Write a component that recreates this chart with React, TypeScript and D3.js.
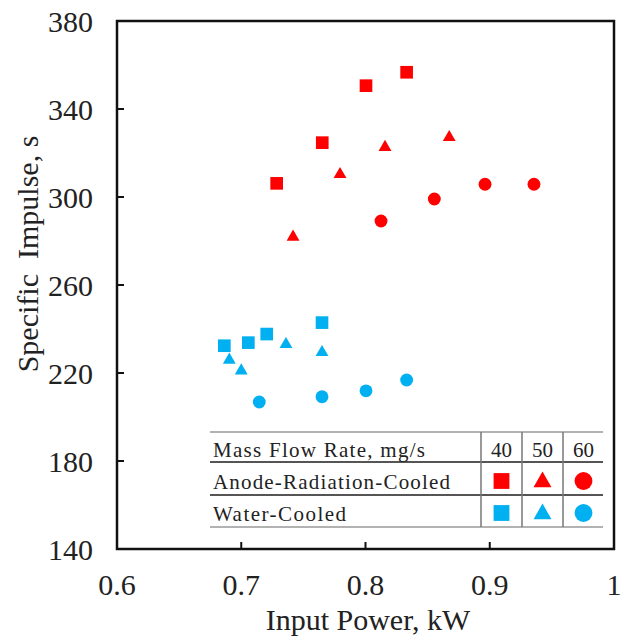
import React, { useEffect, useRef } from 'react';
import * as d3 from 'd3';

const anode40 = [[0.7285, 306.2], [0.7652, 324.7], [0.8004, 350.6], [0.8331, 356.7]];
const anode50 = [[0.7417, 281.8], [0.7795, 310.3], [0.8157, 322.6], [0.8674, 327.1]];
const anode60 = [[0.8125, 289.1], [0.8554, 299.1], [0.8962, 305.8], [0.9356, 305.8]];
const water40 = [[0.6864, 232.4], [0.7057, 233.8], [0.7205, 237.7], [0.765, 242.9]];
const water50 = [[0.6904, 225.9], [0.7, 221.0], [0.736, 233.0], [0.765, 229.4]];
const water60 = [[0.7145, 206.8], [0.765, 209.2], [0.8004, 211.9], [0.8331, 216.8]];

const xTicks = [0.6, 0.7, 0.8, 0.9, 1];
const yTicks = [140, 180, 220, 260, 300, 340, 380];
const flowRates = ['40', '50', '60'];
const coolings = ['Anode-Radiation-Cooled', 'Water-Cooled'];

const RED = '#ff0000';
const BLUE = '#00b0f0';
const FONT = '"Liberation Serif", "Times New Roman", serif';

const App = () => {
    const svgRef = useRef(null);

    useEffect(() => {
        const svg = d3.select(svgRef.current);
        svg.selectAll('*').remove();

        const left = 117, right = 614, top = 21, bottom = 549;

        const x = d3.scaleLinear().domain([0.6, 1]).range([left, right]);
        const y = d3.scaleLinear().domain([140, 380]).range([bottom, top]);

        const symbols = [d3.symbolSquare, d3.symbolTriangle, d3.symbolCircle];
        const plotSizes = [160, 72, 130];
        const legendSizes = [250, 140, 250];

        // Series markers
        const series = [
            { data: anode40, color: RED, shape: 0 },
            { data: anode50, color: RED, shape: 1 },
            { data: anode60, color: RED, shape: 2 },
            { data: water40, color: BLUE, shape: 0 },
            { data: water50, color: BLUE, shape: 1 },
            { data: water60, color: BLUE, shape: 2 },
        ];
        series.forEach(s => {
            const sym = d3.symbol().type(symbols[s.shape]).size(plotSizes[s.shape]);
            svg.append('g')
                .selectAll('path')
                .data(s.data)
                .enter()
                .append('path')
                .attr('d', sym)
                .attr('transform', d => `translate(${x(d[0])},${y(d[1])})`)
                .attr('fill', s.color);
        });

        // Legend table
        const tLeft = 210, tRight = 603;
        const rowLines = [432, 462, 495, 527];
        const colLines = [481, 522, 563];
        const colCenters = [501.5, 542.5, 583.5];
        const rowCenters = [447, 481, 513];
        const rowBase = [457, 489, 521];

        svg.append('g')
            .selectAll('line')
            .data(rowLines)
            .enter()
            .append('line')
            .attr('x1', tLeft)
            .attr('x2', tRight)
            .attr('y1', d => d)
            .attr('y2', d => d)
            .attr('stroke', (d, i) => (i === 1 || i === 2 ? '#555' : '#999'))
            .attr('stroke-width', (d, i) => (i === 1 || i === 2 ? 2 : 1.5));

        svg.append('g')
            .selectAll('line')
            .data(colLines)
            .enter()
            .append('line')
            .attr('x1', d => d)
            .attr('x2', d => d)
            .attr('y1', rowLines[0])
            .attr('y2', rowLines[3])
            .attr('stroke', '#777')
            .attr('stroke-width', 1.5);

        svg.append('text')
            .attr('x', 213)
            .attr('y', rowBase[0])
            .attr('textLength', 212)
            .attr('lengthAdjust', 'spacing')
            .attr('font-family', FONT)
            .attr('font-size', 21)
            .attr('fill', '#222')
            .text('Mass Flow Rate, mg/s');

        svg.append('g')
            .selectAll('text')
            .data(flowRates)
            .enter()
            .append('text')
            .attr('x', (d, i) => colCenters[i])
            .attr('y', rowBase[0])
            .attr('text-anchor', 'middle')
            .attr('font-family', FONT)
            .attr('font-size', 21)
            .attr('fill', '#222')
            .text(d => d);

        coolings.forEach((label, r) => {
            svg.append('text')
                .attr('x', 213)
                .attr('y', rowBase[r + 1])
                .attr('textLength', r === 0 ? 237 : 133)
                .attr('lengthAdjust', 'spacing')
                .attr('font-family', FONT)
                .attr('font-size', 21)
                .attr('fill', '#222')
                .text(label);
            flowRates.forEach((f, c) => {
                svg.append('path')
                    .attr('d', d3.symbol().type(symbols[c]).size(legendSizes[c]))
                    .attr('transform', `translate(${colCenters[c]},${rowCenters[r + 1] + (c === 1 ? 1 : 0)})`)
                    .attr('fill', r === 0 ? RED : BLUE);
            });
        });

        // Axes frame
        svg.append('rect')
            .attr('x', left)
            .attr('y', top)
            .attr('width', right - left)
            .attr('height', bottom - top)
            .attr('fill', 'none')
            .attr('stroke', '#111')
            .attr('stroke-width', 2.5);

        // Inward ticks
        svg.append('g')
            .selectAll('line')
            .data(yTicks.slice(1, -1))
            .enter()
            .append('line')
            .attr('x1', left)
            .attr('x2', left + 7)
            .attr('y1', d => y(d))
            .attr('y2', d => y(d))
            .attr('stroke', '#111')
            .attr('stroke-width', 2);

        svg.append('g')
            .selectAll('line')
            .data(xTicks.slice(1, -1))
            .enter()
            .append('line')
            .attr('x1', d => x(d))
            .attr('x2', d => x(d))
            .attr('y1', bottom)
            .attr('y2', bottom - 7)
            .attr('stroke', '#111')
            .attr('stroke-width', 2);

        // Tick labels
        svg.append('g')
            .selectAll('text')
            .data(yTicks)
            .enter()
            .append('text')
            .attr('x', 93)
            .attr('y', d => y(d) + 11)
            .attr('text-anchor', 'end')
            .attr('font-family', FONT)
            .attr('font-size', 30)
            .attr('fill', '#222')
            .text(d => d);

        svg.append('g')
            .selectAll('text')
            .data(xTicks)
            .enter()
            .append('text')
            .attr('x', d => x(d))
            .attr('y', 595)
            .attr('text-anchor', 'middle')
            .attr('font-family', FONT)
            .attr('font-size', 30)
            .attr('fill', '#222')
            .text(d => d3.format('')(d));

        // Axis titles
        svg.append('text')
            .attr('x', 368)
            .attr('y', 630)
            .attr('text-anchor', 'middle')
            .attr('font-family', FONT)
            .attr('font-size', 30)
            .attr('fill', '#222')
            .text('Input Power, kW');

        svg.append('text')
            .attr('transform', 'translate(38,254) rotate(-90)')
            .attr('text-anchor', 'middle')
            .attr('font-family', FONT)
            .attr('font-size', 30)
            .attr('fill', '#222')
            .style('white-space', 'pre')
            .text('Specific  Impulse, s');
    }, []);

    return (
        <svg
            ref={svgRef}
            width={620}
            height={644}
            style={{ position: 'absolute', left: 0, top: 0, background: '#fff' }}
        ></svg>
    );
};

export default App;
